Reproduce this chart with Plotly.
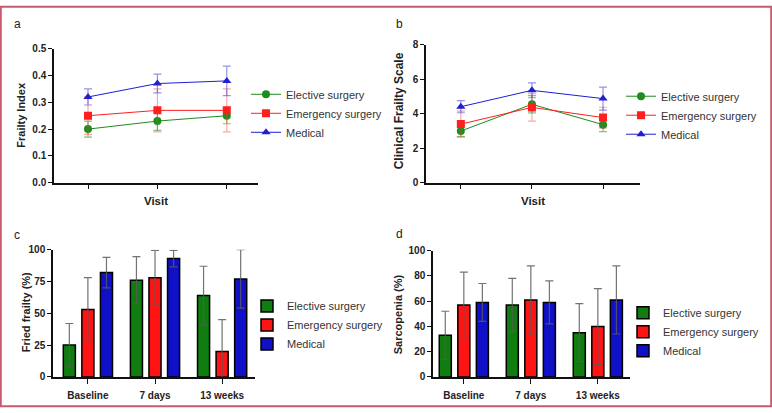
import plotly.graph_objects as go

W, H = 772, 413

groups = ["Elective surgery", "Emergency surgery", "Medical"]
visits = ["Baseline", "7 days", "13 weeks"]
visit_pos = [0, 1, 2]

# Panel a: Frailty Index
fi_mean = {"Elective surgery": [0.20, 0.23, 0.25],
           "Emergency surgery": [0.25, 0.27, 0.27],
           "Medical": [0.32, 0.37, 0.38]}
fi_err = {"Elective surgery": [0.03, 0.035, 0.03],
          "Emergency surgery": [0.07, 0.08, 0.08],
          "Medical": [0.03, 0.035, 0.055]}

# Panel b: Clinical Frailty Scale
cfs_mean = {"Elective surgery": [3.0, 4.55, 3.37],
            "Emergency surgery": [3.4, 4.37, 3.78],
            "Medical": [4.41, 5.36, 4.88]}
cfs_err = {"Elective surgery": [0.33, 0.5, 0.4],
           "Emergency surgery": [0.75, 0.8, 0.6],
           "Medical": [0.35, 0.43, 0.67]}

# Panel c: Fried frailty (%)
fried_mean = {"Elective surgery": [25, 76, 64],
              "Emergency surgery": [53, 78, 20],
              "Medical": [82, 93, 77]}
fried_err = {"Elective surgery": [17, 18.5, 23],
             "Emergency surgery": [25, 21.5, 25],
             "Medical": [12, 6.5, 23]}

# Panel d: Sarcopenia (%)
sarc_mean = {"Elective surgery": [33, 57, 35],
             "Emergency surgery": [57, 61, 40],
             "Medical": [59, 59, 61]}
sarc_err = {"Elective surgery": [19, 21, 23],
            "Emergency surgery": [26, 27, 30],
            "Medical": [15, 17, 27]}

y_titles = ["Frailty Index", "Clinical Frailty Scale", "Fried frailty (%)", "Sarcopenia (%)"]

line_colors = {"Elective surgery": "#1e8c1e", "Emergency surgery": "#ff1f1f", "Medical": "#1f1fd0"}
err_colors = {"Elective surgery": "rgba(30,140,30,0.55)", "Emergency surgery": "rgba(255,60,60,0.45)",
              "Medical": "rgba(40,40,210,0.5)"}
bar_colors = {"Elective surgery": "#0f7d0f", "Emergency surgery": "#ff1414", "Medical": "#1010c8"}
symbols = {"Elective surgery": "circle", "Emergency surgery": "square", "Medical": "triangle-up"}

FONT = "Liberation Sans, Arial, sans-serif"
fig = go.Figure()

def px_x(a, b):
    return [a / W, b / W]

def px_y(top, bottom):
    return [1 - bottom / H, 1 - top / H]

for g in groups:
    fig.add_trace(go.Scatter(
        x=visit_pos, y=fi_mean[g], name=g, mode="lines+markers",
        line=dict(color=line_colors[g], width=1),
        marker=dict(symbol=symbols[g], size=8, color=line_colors[g]),
        error_y=dict(type="data", array=fi_err[g], color=err_colors[g], thickness=1.2, width=4),
        xaxis="x", yaxis="y", legend="legend"))
for g in groups:
    fig.add_trace(go.Scatter(
        x=visit_pos, y=cfs_mean[g], name=g, mode="lines+markers",
        line=dict(color=line_colors[g], width=1),
        marker=dict(symbol=symbols[g], size=8, color=line_colors[g]),
        error_y=dict(type="data", array=cfs_err[g], color=err_colors[g], thickness=1.2, width=4),
        xaxis="x2", yaxis="y2", legend="legend2"))
for g in groups:
    fig.add_trace(go.Bar(
        x=visit_pos, y=fried_mean[g], name=g,
        marker=dict(color=bar_colors[g], line=dict(color="black", width=1.5)),
        error_y=dict(type="data", array=fried_err[g], color="rgba(90,90,90,0.85)", thickness=1.2, width=4),
        xaxis="x3", yaxis="y3", legend="legend3", offsetgroup=g))
for g in groups:
    fig.add_trace(go.Bar(
        x=visit_pos, y=sarc_mean[g], name=g,
        marker=dict(color=bar_colors[g], line=dict(color="black", width=1.5)),
        error_y=dict(type="data", array=sarc_err[g], color="rgba(90,90,90,0.85)", thickness=1.2, width=4),
        xaxis="x4", yaxis="y4", legend="legend4", offsetgroup=g))

tickfont = dict(family=FONT, size=10, color="#222", weight="bold")

def tfont(size):
    return dict(family=FONT, size=size, color="#222", weight="bold")

def xax(domain, rng, anchor, labels, title=None):
    d = dict(domain=domain, range=rng, anchor=anchor, showline=True, linecolor="#111", linewidth=1.5,
             ticks="outside", ticklen=5, tickwidth=1.2, tickcolor="#111", ticklabelstandoff=3,
             tickvals=visit_pos, ticktext=labels, tickfont=tickfont, showgrid=False, zeroline=False,
             fixedrange=True)
    if title:
        d["title"] = dict(text=title, font=tfont(11.5), standoff=6)
    return d

def yax(domain, rng, anchor, tv, tt):
    return dict(domain=domain, range=rng, anchor=anchor, showline=True, linecolor="#111", linewidth=1.5,
                ticks="outside", ticklen=4, tickwidth=1.2, tickcolor="#111",
                tickvals=tv, ticktext=tt, tickfont=tickfont, showgrid=False, zeroline=False)

blank = ["", "", ""]
fi_ticks = [0, 0.1, 0.2, 0.3, 0.4, 0.5]
cfs_ticks = [0, 2, 4, 6, 8]
fried_ticks = [0, 25, 50, 75, 100]
sarc_ticks = [0, 20, 40, 60, 80, 100]

legend_common = dict(font=dict(family=FONT, size=11, color="#333"), bgcolor="rgba(0,0,0,0)",
                     xanchor="left", yanchor="top", tracegroupgap=0, itemwidth=30)

fig.update_layout(
    width=W, height=H, margin=dict(l=0, r=0, t=0, b=0),
    paper_bgcolor="white", plot_bgcolor="white",
    barmode="group", bargap=0.17, bargroupgap=0.35,
    xaxis=xax(px_x(54, 258), [-0.49, 2.45], "y", blank, "Visit"),
    yaxis=yax(px_y(44, 182), [0, 0.5], "x", fi_ticks, [f"{v:.1f}" for v in fi_ticks]),
    xaxis2=xax(px_x(426, 640), [-0.49, 2.52], "y2", blank, "Visit"),
    yaxis2=yax(px_y(40, 182), [0, 8], "x2", cfs_ticks, [str(v) for v in cfs_ticks]),
    xaxis3=xax(px_x(53, 255), [-0.52, 2.49], "y3", visits),
    yaxis3=yax(px_y(251, 382), [0, 100], "x3", fried_ticks, [str(v) for v in fried_ticks]),
    xaxis4=xax(px_x(433, 630), [-0.46, 2.48], "y4", visits),
    yaxis4=yax(px_y(252, 382), [0, 100], "x4", sarc_ticks, [str(v) for v in sarc_ticks]),
    legend=dict(x=246 / W, y=1 - 76 / H, **legend_common),
    legend2=dict(x=621 / W, y=1 - 78 / H, **legend_common),
    legend3=dict(x=247 / W, y=1 - 294 / H, **legend_common),
    legend4=dict(x=623 / W, y=1 - 301 / H, **legend_common),
    showlegend=True,
)

for text, xp, yp, size in zip(y_titles, [21.5, 398.5, 25.5, 398], [112.5, 108, 316, 317.5], [11, 12, 11, 11]):
    fig.add_annotation(text=text, x=xp / W, y=1 - yp / H, xref="paper", yref="paper",
                       showarrow=False, textangle=-90, xanchor="center", yanchor="middle",
                       font=tfont(size))

for label, xp, yp in [("a", 12, 19), ("b", 394, 19), ("c", 12, 236), ("d", 394, 235)]:
    fig.add_annotation(text=label, x=xp / W, y=1 - yp / H, xref="paper", yref="paper",
                       showarrow=False, xanchor="left", yanchor="middle",
                       font=dict(family=FONT, size=12, color="#222"))

fig.add_shape(type="rect", xref="paper", yref="paper", x0=0.001, x1=0.999, y0=0.002, y1=0.998,
              line=dict(color="#c95a6e", width=2), fillcolor="rgba(0,0,0,0)")

fig.write_html("out.html")
